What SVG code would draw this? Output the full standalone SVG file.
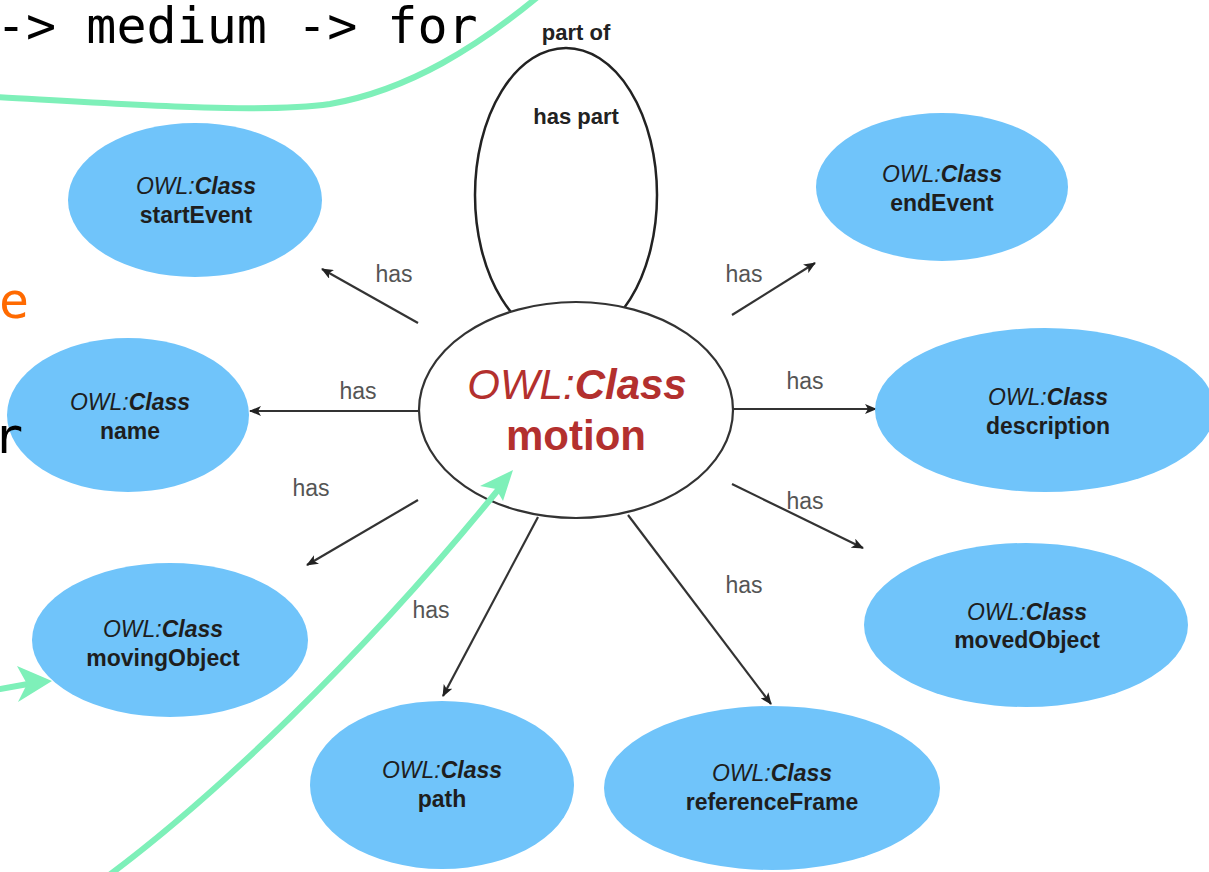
<svg xmlns="http://www.w3.org/2000/svg" width="1209" height="872" viewBox="0 0 1209 872">
  <style>
    .cls { fill: #70c4fa; stroke: none; }
    .ntext { font-family: "Liberation Sans", Arial, sans-serif; font-size: 23px; fill: #1e1e1e; text-anchor: middle; }
    .it { font-style: italic; }
    .bi { font-style: italic; font-weight: bold; }
    .b { font-weight: bold; }
    .edge { stroke: #333; stroke-width: 2.2; fill: none; marker-end: url(#head); }
    .lbl { font-family: "Liberation Sans", Arial, sans-serif; font-size: 23px; fill: #555; text-anchor: middle; }
    .loopLbl { font-family: "Liberation Sans", Arial, sans-serif; font-size: 22px; font-weight: bold; fill: #222; text-anchor: middle; }
    .mono { font-family: "DejaVu Sans Mono", "Liberation Mono", monospace; font-size: 50px; }
    .hl { stroke: #7ef0b9; stroke-width: 6; fill: none; stroke-linecap: round; }
  </style>
  <defs>
    <marker id="head" viewBox="0 0 12 10" refX="11" refY="5" markerWidth="12" markerHeight="10" markerUnits="userSpaceOnUse" orient="auto">
      <path d="M0,0 L12,5 L0,10 L3,5 Z" fill="#222"/>
    </marker>
  </defs>

  <rect width="1209" height="872" fill="#ffffff"/>

  <!-- self relation loop (part of / has part) -->
  <g id="loop">
    <ellipse cx="566" cy="195" rx="91" ry="147" fill="none" stroke="#222" stroke-width="2.5"/>
    <text class="loopLbl" x="576" y="40">part of</text>
    <text class="loopLbl" x="576" y="124">has part</text>
  </g>

  <!-- connectors -->
  <g id="connectors">
    <line class="edge" x1="418" y1="323" x2="322" y2="269"/>
    <line class="edge" x1="732" y1="315" x2="815" y2="263"/>
    <line class="edge" x1="418" y1="411" x2="250" y2="411"/>
    <line class="edge" x1="733" y1="409" x2="876" y2="409"/>
    <line class="edge" x1="418" y1="500" x2="307" y2="565"/>
    <line class="edge" x1="732" y1="484" x2="863" y2="548"/>
    <line class="edge" x1="538" y1="517" x2="443" y2="696"/>
    <line class="edge" x1="628" y1="515" x2="771" y2="704"/>
    <text class="lbl" x="394" y="282">has</text>
    <text class="lbl" x="744" y="282">has</text>
    <text class="lbl" x="358" y="399">has</text>
    <text class="lbl" x="805" y="389">has</text>
    <text class="lbl" x="311" y="496">has</text>
    <text class="lbl" x="805" y="509">has</text>
    <text class="lbl" x="431" y="618">has</text>
    <text class="lbl" x="744" y="593">has</text>
  </g>

  <!-- central class -->
  <g id="motion">
    <ellipse cx="576" cy="410" rx="157" ry="108" fill="#ffffff" stroke="#333" stroke-width="2.2"/>
    <text x="577" y="399" font-family="Liberation Sans, Arial, sans-serif" font-size="42" fill="#b3302e" text-anchor="middle"><tspan class="it">OWL:</tspan><tspan class="bi">Class</tspan></text>
    <text x="576" y="450" font-family="Liberation Sans, Arial, sans-serif" font-size="42" font-weight="bold" fill="#b3302e" text-anchor="middle">motion</text>
  </g>

  <g id="startEvent">
    <ellipse class="cls" cx="195" cy="200" rx="127" ry="77"/>
    <text class="ntext" x="196" y="194"><tspan class="it">OWL:</tspan><tspan class="bi">Class</tspan></text>
    <text class="ntext b" x="196" y="223">startEvent</text>
  </g>

  <g id="endEvent">
    <ellipse class="cls" cx="942" cy="187" rx="126" ry="74"/>
    <text class="ntext" x="942" y="182"><tspan class="it">OWL:</tspan><tspan class="bi">Class</tspan></text>
    <text class="ntext b" x="942" y="211">endEvent</text>
  </g>

  <g id="name">
    <ellipse class="cls" cx="128" cy="415" rx="121" ry="77"/>
    <text class="ntext" x="130" y="410"><tspan class="it">OWL:</tspan><tspan class="bi">Class</tspan></text>
    <text class="ntext b" x="130" y="439">name</text>
  </g>

  <g id="description">
    <ellipse class="cls" cx="1045" cy="410" rx="170" ry="82"/>
    <text class="ntext" x="1048" y="405"><tspan class="it">OWL:</tspan><tspan class="bi">Class</tspan></text>
    <text class="ntext b" x="1048" y="434">description</text>
  </g>

  <g id="movingObject">
    <ellipse class="cls" cx="170" cy="640" rx="138" ry="77"/>
    <text class="ntext" x="163" y="637"><tspan class="it">OWL:</tspan><tspan class="bi">Class</tspan></text>
    <text class="ntext b" x="163" y="666">movingObject</text>
  </g>

  <g id="movedObject">
    <ellipse class="cls" cx="1026" cy="625" rx="162" ry="82"/>
    <text class="ntext" x="1027" y="620"><tspan class="it">OWL:</tspan><tspan class="bi">Class</tspan></text>
    <text class="ntext b" x="1027" y="648">movedObject</text>
  </g>

  <g id="path">
    <ellipse class="cls" cx="442" cy="785" rx="132" ry="84"/>
    <text class="ntext" x="442" y="778"><tspan class="it">OWL:</tspan><tspan class="bi">Class</tspan></text>
    <text class="ntext b" x="442" y="807">path</text>
  </g>

  <g id="referenceFrame">
    <ellipse class="cls" cx="772" cy="788" rx="168" ry="82"/>
    <text class="ntext" x="772" y="781"><tspan class="it">OWL:</tspan><tspan class="bi">Class</tspan></text>
    <text class="ntext b" x="772" y="810">referenceFrame</text>
  </g>

  <!-- overlaid note text -->
  <g id="notes">
    <text class="mono" x="-4" y="43" fill="#000">-&gt; medium -&gt; for</text>
    <text class="mono" x="-31" y="318" fill="#ff6a00">re</text>
    <text class="mono" x="-7" y="453" fill="#000">r</text>
  </g>

  <!-- highlight strokes -->
  <g id="highlights">
    <path class="hl" d="M-5,97 C120,104 260,114 330,104 C410,90 480,45 540,-5"/>
    <path class="hl" d="M0,689 L28,684"/>
    <path d="M52,681 L17,666 L27,684 L18,702 Z" fill="#7ef0b9"/>
    <path class="hl" d="M108,876 C210,800 360,660 498,490"/>
    <path d="M513,470 L480,486 L496,489 L503,501 Z" fill="#7ef0b9"/>
  </g>
</svg>
